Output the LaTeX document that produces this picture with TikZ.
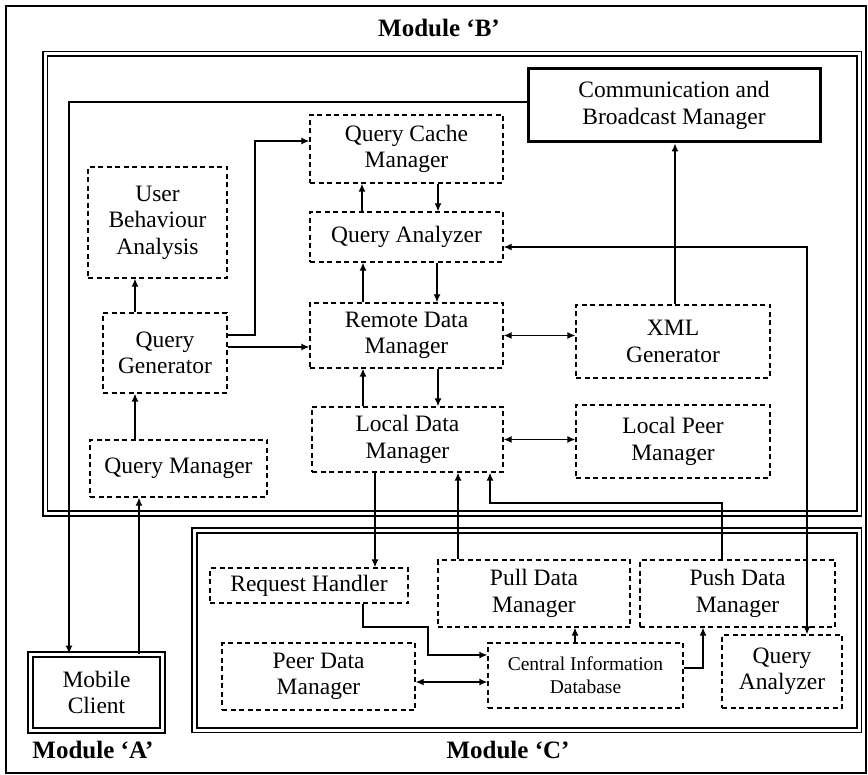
\documentclass[tikz,border=0pt]{standalone}
\usepackage{fontspec}
\setmainfont{Liberation Serif}
\usetikzlibrary{arrows.meta}
\newcommand{\normsz}{\fontsize{23.5}{26.5}\selectfont}
\newcommand{\smallsz}{\fontsize{19.5}{23}\selectfont}
\newcommand{\modsz}{\fontsize{25}{30}\selectfont\bfseries}
\tikzset{
  dbox/.style={draw, line width=1.3pt, dash pattern=on 5pt off 3.5pt, inner sep=0pt, align=center, font=\normsz},
  arr/.style={line width=1.3pt, -{Latex[length=8pt,width=7pt]}},
  darr/.style={line width=1.3pt, {Latex[length=8pt,width=7pt]}-{Latex[length=8pt,width=7pt]}},
  modbox/.style={draw, line width=1.7pt, double=white, double distance=3pt},
  modlabel/.style={font=\modsz, inner sep=0pt},
}
\begin{document}
\begin{tikzpicture}[x=1pt, y=-1pt]
\useasboundingbox (0,0) rectangle (868,775);
% outer frame
\draw[line width=1.5pt] (6,6) rectangle (866,773);
% modules
\draw[modbox] (45,54) rectangle (859,513.5);
\draw[modbox] (194.5,530.5) rectangle (859,730);
\node[modlabel] (labB) at (439,28) {Module ‘B’};
\node[modlabel] (labA) at (93,750) {Module ‘A’};
\node[modlabel] (labC) at (508,750) {Module ‘C’};
% module B nodes
\node[draw, line width=3pt, inner sep=0pt, align=center, font=\normsz, minimum width=292pt, minimum height=73pt] (comm) at (674,105.5) {Communication and\\Broadcast Manager};
\node[dbox, minimum width=139pt, minimum height=111pt] (uba) at (157.5,222.5) {User\\Behaviour\\Analysis};
\node[dbox, minimum width=124pt, minimum height=80pt] (qg) at (165,353) {Query\\Generator};
\node[dbox, minimum width=177pt, minimum height=57pt] (qm) at (178.5,468.5) {Query Manager};
\node[dbox, minimum width=193pt, minimum height=68pt] (qcm) at (406.5,149) {Query Cache\\Manager};
\node[dbox, minimum width=193pt, minimum height=50pt] (qa) at (406.5,237) {Query Analyzer};
\node[dbox, minimum width=193pt, minimum height=65pt] (rdm) at (406.5,335.5) {Remote Data\\Manager};
\node[dbox, minimum width=191pt, minimum height=65pt] (ldm) at (407.5,439.5) {Local Data\\Manager};
\node[dbox, minimum width=194pt, minimum height=73pt] (xml) at (673,341.5) {XML\\Generator};
\node[dbox, minimum width=194pt, minimum height=73pt] (lpm) at (673,441.5) {Local Peer\\Manager};
% module C nodes
\node[dbox, minimum width=198pt, minimum height=35pt] (rh) at (309,585.5) {Request Handler};
\node[dbox, minimum width=192pt, minimum height=67pt] (pull) at (534,593.5) {Pull Data\\Manager};
\node[dbox, minimum width=195pt, minimum height=67pt] (push) at (737.5,593.5) {Push Data\\Manager};
\node[dbox, minimum width=193pt, minimum height=67pt] (pdm) at (318.5,676.5) {Peer Data\\Manager};
\node[dbox, font=\smallsz, minimum width=195pt, minimum height=65pt] (cid) at (585.5,675.5) {Central Information\\Database};
\node[dbox, minimum width=120pt, minimum height=73pt] (qac) at (782,671.5) {Query\\Analyzer};
% module A node
\node[draw, line width=1.8pt, double=white, double distance=2.5pt, inner sep=0pt, align=center, font=\normsz, minimum width=132pt, minimum height=76pt] (mc) at (96.5,692.5) {Mobile\\Client};
% connectors
\draw[arr] (comm.west |- 0,102) -- (69,102) -- (69,0 |- mc.north);
\draw[arr] (139,0 |- mc.north) -- (139,0 |- qm.south);
\draw[arr] (135,0 |- qm.north) -- (135,0 |- qg.south);
\draw[arr] (135,0 |- qg.north) -- (135,0 |- uba.south);
\draw[arr] (qg.east |- 0,335) -- (255,335) -- (255,141) -- (qcm.west |- 0,141);
\draw[arr] (qg.east |- 0,347) -- (rdm.west |- 0,347);
\draw[arr] (362,0 |- qa.north) -- (362,0 |- qcm.south);
\draw[arr] (438,0 |- qcm.south) -- (438,0 |- qa.north);
\draw[arr] (363,0 |- rdm.north) -- (363,0 |- qa.south);
\draw[arr] (437,0 |- qa.south) -- (437,0 |- rdm.north);
\draw[arr] (363,0 |- ldm.north) -- (363,0 |- rdm.south);
\draw[arr] (438,0 |- rdm.south) -- (438,0 |- ldm.north);
\draw[darr] (rdm.east) -- (xml.west |- rdm.east);
\draw[darr] (ldm.east) -- (lpm.west |- ldm.east);
\draw[arr] (675,0 |- xml.north) -- (675,0 |- comm.south);
\draw[darr] (qa.east |- 0,247) -- (807,247) -- (807,0 |- qac.north);
\draw[arr] (375,0 |- ldm.south) -- (375,0 |- rh.north);
\draw[arr] (458,0 |- pull.north) -- (458,0 |- ldm.south);
\draw[arr] (722,0 |- push.north) -- (722,503) -- (490,503) -- (490,0 |- ldm.south);
\draw[arr] (363,0 |- rh.south) -- (363,627) -- (428,627) -- (428,655) -- (cid.west |- 0,655);
\draw[darr] (pdm.east |- 0,682) -- (cid.west |- 0,682);
\draw[arr] (575,0 |- cid.north) -- (575,0 |- pull.south);
\draw[arr] (cid.east |- 0,668) -- (703,668) -- (703,0 |- push.south);
\end{tikzpicture}
\end{document}
